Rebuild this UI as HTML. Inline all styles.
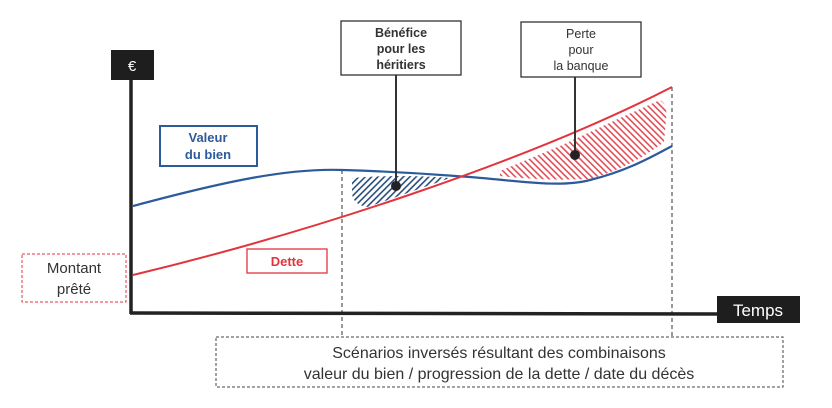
<!DOCTYPE html>
<html><head><meta charset="utf-8"><style>
body{margin:0;background:#fff;width:832px;height:408px;overflow:hidden}
svg{display:block}
text{font-family:"Liberation Sans",sans-serif}
</style></head><body>
<svg width="832" height="408" viewBox="0 0 832 408">
<defs>
<pattern id="hb" patternUnits="userSpaceOnUse" width="4.5" height="4.5" patternTransform="rotate(45)">
<rect width="1.6" height="4.5" fill="#2b4f7a"/></pattern>
<pattern id="hr" patternUnits="userSpaceOnUse" width="4.5" height="4.5" patternTransform="rotate(-45)">
<rect width="1.6" height="4.5" fill="#e0505a"/></pattern>
</defs>
<path d="M352,178 Q400,174 450,178 L368,207 Q352,205 352,192 Z" fill="url(#hb)"/>
<path d="M500,171 L560,146 L620,118 L660,100 Q668,104 666,120 L664,142 Q630,168 590,179 Q545,181 500,176 Z" fill="url(#hr)"/>
<line x1="342" y1="170" x2="342" y2="336" stroke="#333" stroke-width="1" stroke-dasharray="4,3"/>
<line x1="672" y1="87" x2="672" y2="336" stroke="#333" stroke-width="1" stroke-dasharray="4,3"/>
<path d="M133,206 C230,180 290,168 343,170 C410,172 440,175 470,177 C520,181 560,188 590,180 C630,170 655,155 672,146" fill="none" stroke="#2d5a9a" stroke-width="2.2"/>
<path d="M133,275 C300,235 520,165 672,87" fill="none" stroke="#e3343c" stroke-width="2"/>
<line x1="131" y1="78" x2="131" y2="314" stroke="#222" stroke-width="3.5"/>
<line x1="130" y1="313" x2="720" y2="314" stroke="#222" stroke-width="3.5"/>
<rect x="111" y="50" width="43" height="30" fill="#1e1e1e"/>
<text x="132" y="71" font-size="15" fill="#fff" text-anchor="middle">€</text>
<rect x="717" y="296" width="83" height="27" fill="#1e1e1e"/>
<text x="758" y="316" font-size="17" fill="#fff" text-anchor="middle">Temps</text>
<line x1="396" y1="75" x2="396" y2="186" stroke="#333" stroke-width="2"/>
<circle cx="396" cy="186" r="5" fill="#222"/>
<line x1="575" y1="77" x2="575" y2="155" stroke="#333" stroke-width="2"/>
<circle cx="575" cy="155" r="5" fill="#222"/>
<rect x="341" y="21" width="120" height="54" fill="#fff" stroke="#333" stroke-width="1.3"/>
<text font-size="12.5" font-weight="bold" fill="#333" text-anchor="middle"><tspan x="401" y="37">Bénéfice</tspan><tspan x="401" y="53">pour les</tspan><tspan x="401" y="69">héritiers</tspan></text>
<rect x="521" y="22" width="120" height="55" fill="#fff" stroke="#333" stroke-width="1.3"/>
<text font-size="12.5" fill="#333" text-anchor="middle"><tspan x="581" y="38">Perte</tspan><tspan x="581" y="54">pour</tspan><tspan x="581" y="70">la banque</tspan></text>
<rect x="160" y="126" width="97" height="40" fill="#fff" stroke="#2d5a9a" stroke-width="2"/>
<text font-size="13" font-weight="bold" fill="#2d5a9a" text-anchor="middle"><tspan x="208" y="142">Valeur</tspan><tspan x="208" y="159">du bien</tspan></text>
<rect x="247" y="249" width="80" height="24" fill="#fff" stroke="#e3343c" stroke-width="1.3"/>
<text x="287" y="266" font-size="13" font-weight="bold" fill="#e3343c" text-anchor="middle">Dette</text>
<rect x="22" y="254" width="104" height="48" fill="#fff" stroke="#e3343c" stroke-width="1" stroke-dasharray="3,2"/>
<text font-size="15" fill="#333" text-anchor="middle"><tspan x="74" y="273">Montant</tspan><tspan x="74" y="294">prêté</tspan></text>
<rect x="216" y="337" width="567" height="50" fill="#fff" stroke="#444" stroke-width="1" stroke-dasharray="3,2"/>
<text font-size="16" fill="#333" text-anchor="middle"><tspan x="499" y="358">Scénarios inversés résultant des combinaisons</tspan><tspan x="499" y="379">valeur du bien / progression de la dette / date du décès</tspan></text>
</svg>
</body></html>
